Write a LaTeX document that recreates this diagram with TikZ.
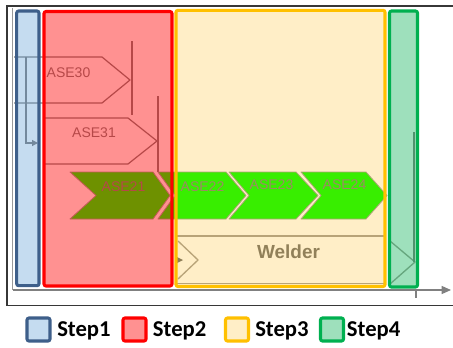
\documentclass[tikz,border=0pt]{standalone}
\usepackage{fontspec}
\setmainfont{Liberation Sans}
\newfontfamily\legendfont{Carlito}
\usetikzlibrary{arrows.meta}

% overlay colours of the four steps
\definecolor{sblue}{RGB}{91,155,213}
\definecolor{sblueline}{RGB}{62,95,138}
\definecolor{sred}{RGB}{255,0,0}
\definecolor{syellow}{RGB}{255,178,0}
\definecolor{syellowline}{RGB}{255,192,0}
\definecolor{sgreen}{RGB}{0,176,80}
% chart colours
\definecolor{taskgreen}{RGB}{0,255,0}
\definecolor{chartgray}{RGB}{128,128,128}
\definecolor{barline}{RGB}{165,160,155}
\definecolor{framegray}{RGB}{55,55,55}

\tikzset{
  chartline/.style={draw=chartgray, line width=0.9pt},
  barstroke/.style={draw=barline, line width=1pt},
  taskshape/.style={fill=taskgreen, draw=black!38, line width=0.6pt, line join=round},
  tasklabel/.style={text=chartgray, font=\fontsize{10.5}{12}\selectfont, inner sep=0pt},
  fillblue/.style={fill=sblue, fill opacity=0.35},
  fillred/.style={fill=sred, fill opacity=0.43},
  fillyellow/.style={fill=syellow, fill opacity=0.22},
  fillgreen/.style={fill=sgreen, fill opacity=0.38},
  edgeblue/.style={draw=sblueline, line width=2.3pt, rounded corners=1.5pt},
  edgered/.style={draw=sred, line width=2.3pt, rounded corners=1.5pt},
  edgeyellow/.style={draw=syellowline, line width=2.3pt, rounded corners=1.5pt},
  edgegreen/.style={draw=sgreen, line width=2.3pt, rounded corners=1.5pt},
  legendtext/.style={font=\legendfont\bfseries\fontsize{17}{20}\selectfont, inner sep=0pt, anchor=base west},
}

\begin{document}
\begin{tikzpicture}[x=0.75pt, y=-0.75pt]
\useasboundingbox (0,0) rectangle (453,347);
\fill[white] (0,0) rectangle (453,347);

% outer frame, open to the right
\draw[framegray, line width=1.4pt] (453,6) -- (7,6) -- (7,305.5) -- (453,305.5);
% time axis
\draw[draw=chartgray!80, line width=0.8pt] (12.5,8) -- (12.5,290);
\coordinate (ax0) at (12.5,290);
\coordinate (ax1) at (451,290);
\draw[chartline, -{Triangle[length=7pt, width=6pt]}] (ax0) -- (ax1);
\draw[chartline] (416,290) -- (416,298);

% ASE30 (outline task)
\draw[chartline, line join=round] (14,57) -- (102,57) -- (130,80) -- (102,103) -- (14,103);
\draw[chartline] (132,41) -- (132,115);
\node[tasklabel] (t30) at (68.5,73) {ASE30};

% ASE31 (outline task)
\draw[chartline, line join=round] (44,118) -- (128,118) -- (157,141) -- (128,164) -- (44,164);
\draw[chartline] (158,96) -- (158,172);
\node[tasklabel] (t31) at (94,133) {ASE31};

% link from ASE30 to ASE31
\coordinate (d0) at (26,57);
\coordinate (d1) at (38,143);
\draw[chartline, -{Triangle[length=4.5pt, width=4.5pt]}] (d0) |- (d1);

% chain of green tasks
\foreach \l/\n/\r/\t in {70/96/153/170, 158/175/226/246, 229/249/296/318, 301/321/366/387}{
  \draw[taskshape] (\l,172) -- (\r,172) -- (\t,195.5) -- (\r,219) -- (\l,219) -- (\n,195.5) -- cycle;
}
\node[tasklabel] (t21) at (123.5,187) {ASE21};
\node[tasklabel] (t22) at (202.5,187) {ASE22};
\node[tasklabel] (t23) at (271.5,185) {ASE23};
\node[tasklabel] (t24) at (344.5,185) {ASE24};

% Welder bar
\draw[barstroke] (176,236) -- (386,236);
\draw[barstroke] (176,283.5) -- (386,283.5);
\draw[barstroke, line join=round] (178,241) -- (198,260) -- (178,279);
\fill[chartgray!85!black] (176,256.5) -- (183,260) -- (176,263.5) -- cycle;
\node[text=chartgray!90!black, font=\bfseries\fontsize{14.2}{16}\selectfont, inner sep=0pt] (welder) at (288.5,252) {Welder};
\draw[barstroke, line join=round] (390,241) -- (415,262) -- (390,284);
\draw[chartline, line width=0.8pt] (414,132) -- (414,262);

% step overlays
\fill[fillblue]   (16.7,11) rectangle (39,285.7);
\fill[fillred]    (44,11.5) rectangle (172,286);
\fill[fillyellow] (176,10.3) rectangle (385,286.5);
\fill[fillgreen]  (389.5,11) rectangle (417.5,287);
\draw[edgeblue]   (16.7,11) rectangle (39,285.7);
\draw[edgeyellow] (176,10.3) rectangle (385,286.5);
\draw[edgered]    (44,11.5) rectangle (172,286);
\draw[edgegreen]  (389.5,11) rectangle (417.5,287);

% legend
\fill[fillblue] (27,318) rectangle (50,341);
\draw[edgeblue] (27,318) rectangle (50,341);
\node[legendtext] (l1) at (57,336.5) {Step1};
\fill[fillred] (123,318) rectangle (146,341);
\draw[edgered] (123,318) rectangle (146,341);
\node[legendtext] (l2) at (152.7,336.5) {Step2};
\fill[fillyellow] (225.5,318) rectangle (248.5,341);
\draw[edgeyellow] (225.5,318) rectangle (248.5,341);
\node[legendtext] (l3) at (255,336.5) {Step3};
\fill[fillgreen] (320.5,318) rectangle (343.5,341);
\draw[edgegreen] (320.5,318) rectangle (343.5,341);
\node[legendtext] (l4) at (346.7,336.5) {Step4};
\end{tikzpicture}
\end{document}
